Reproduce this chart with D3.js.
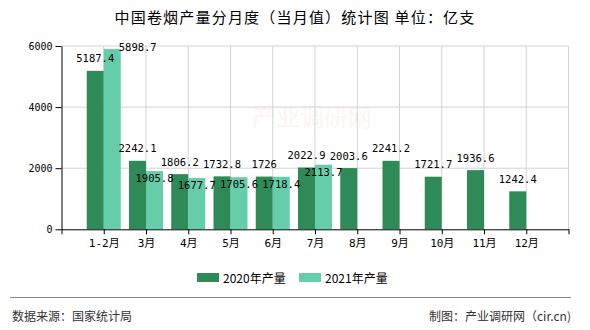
<!DOCTYPE html>
<html><head><meta charset="utf-8">
<script src="https://cdn.jsdelivr.net/npm/d3@7"></script>
<style>
body{margin:0;background:#fff;}
svg{display:block;}
</style></head>
<body>
<svg id="chart" width="590" height="330"></svg>
<script>
const categories = ["1-2月","3月","4月","5月","6月","7月","8月","9月","10月","11月","12月"];
const series2020 = [5187.4,2242.1,1806.2,1732.8,1726,2022.9,2003.6,2241.2,1721.7,1936.6,1242.4];
const series2021 = [5898.7,1905.8,1677.7,1705.6,1718.4,2113.7,null,null,null,null,null];
const seriesNames = ["2020年产量","2021年产量"];
const yTicks = [0,2000,4000,6000];
const colors = ["#2e8b57","#66cdaa"];

(function(){
const svg = d3.select("#chart");
const pL = 61.5, pR = 568.5, pT = 46, pB = 229.3;
const monoFont = "'DejaVu Sans Mono','Noto Sans CJK SC',monospace";
const cjkFont = "'Noto Sans CJK SC','Noto Sans',sans-serif";

const x = d3.scaleLinear().domain([0, categories.length + 1]).range([pL, pR]);
const y = d3.scaleLinear().domain([0, 6000]).range([pB, pT]);
const barW = 17;

// title
svg.append("text").attr("x", 295).attr("y", 23).attr("text-anchor", "middle")
  .attr("font-family", cjkFont).attr("font-size", 15).attr("letter-spacing", 1.2)
  .attr("fill", "#000").text("中国卷烟产量分月度（当月值）统计图 单位：亿支");

// watermark
svg.append("text").attr("x", 312).attr("y", 126).attr("text-anchor", "middle")
  .attr("font-family", cjkFont).attr("font-size", 24).attr("fill", "#fdf4f4")
  .text("产业调研网");

// grid
const grid = svg.append("g");
grid.selectAll("line.h").data(yTicks.filter(d => d > 0)).join("line")
  .attr("x1", pL).attr("x2", pR).attr("y1", d => y(d)).attr("y2", d => y(d))
  .attr("stroke", "#d3d3d3").attr("stroke-width", 1);
grid.selectAll("line.v").data(d3.range(1, categories.length + 2)).join("line")
  .attr("x1", d => x(d)).attr("x2", d => x(d)).attr("y1", pT).attr("y2", pB)
  .attr("stroke", "#d3d3d3").attr("stroke-width", 1);

// bars
const bars = svg.append("g");
bars.selectAll("rect.a").data(series2020).join("rect")
  .attr("x", (d, i) => x(i + 1) - barW).attr("width", barW)
  .attr("y", d => y(d)).attr("height", d => pB - y(d)).attr("fill", colors[0]);
bars.selectAll("rect.b").data(series2021.map((v, i) => ({v, i})).filter(d => d.v != null)).join("rect")
  .attr("x", d => x(d.i + 1)).attr("width", barW)
  .attr("y", d => y(d.v)).attr("height", d => pB - y(d.v)).attr("fill", colors[1]);

// axes
const yAxis = svg.append("g").attr("transform", `translate(${pL},0)`)
  .call(d3.axisLeft(y).tickValues(yTicks).tickFormat(d3.format("d")).tickSize(6).tickSizeOuter(0).tickPadding(3));
yAxis.selectAll("path,line").attr("stroke", "#000");
yAxis.selectAll("text").attr("font-family", monoFont).attr("font-size", 10).attr("fill", "#000");

const xAxis = svg.append("g").attr("transform", `translate(0,${pB})`)
  .call(d3.axisBottom(x).tickValues(d3.range(0, categories.length + 2))
    .tickFormat(i => categories[i - 1] || "").tickSize(5).tickSizeOuter(0).tickPadding(5));
xAxis.selectAll("path,line").attr("stroke", "#000");
xAxis.selectAll("text").attr("font-family", monoFont).attr("font-size", 11).attr("fill", "#000");

// labels
const labels = svg.append("g").attr("font-family", monoFont).attr("font-size", 10.5).attr("fill", "#000");
const darkBoxes = [];
series2020.forEach((v, i) => {
  const t = labels.append("text").attr("x", x(i + 1) - barW / 2).attr("y", y(v) - 8.5)
    .attr("text-anchor", "middle").text(String(v));
  darkBoxes[i] = t.node().getBBox();
});
series2021.forEach((v, i) => {
  if (v == null) return;
  const cx = x(i + 1) + barW / 2;
  const t = labels.append("text").attr("x", cx).attr("y", y(v) + 11)
    .attr("text-anchor", "middle").text(String(v));
  const b = t.node().getBBox(), d = darkBoxes[i];
  const overlap = b.x < d.x + d.width && d.x < b.x + b.width && b.y < d.y + d.height && d.y < b.y + b.height;
  if (overlap) {
    t.attr("text-anchor", "start").attr("x", x(i + 1) + barW - 2).attr("y", y(v) + 2);
  }
});

// legend
const legend = svg.append("g");
const legX = [197, 299];
seriesNames.forEach((n, i) => {
  legend.append("rect").attr("x", legX[i]).attr("y", 273).attr("width", 22).attr("height", 9).attr("fill", colors[i]);
  legend.append("text").attr("x", legX[i] + 26).attr("y", 283)
    .attr("font-family", cjkFont).attr("font-size", 12).attr("fill", "#000").text(n);
});

// footer
svg.append("line").attr("x1", 10).attr("x2", 571).attr("y1", 297.5).attr("y2", 297.5)
  .attr("stroke", "#888").attr("stroke-width", 1);
svg.append("text").attr("x", 12).attr("y", 321).attr("font-family", cjkFont).attr("font-size", 12)
  .attr("fill", "#333").text("数据来源：国家统计局");
svg.append("text").attr("x", 571).attr("y", 321).attr("text-anchor", "end").attr("font-family", cjkFont).attr("font-size", 12)
  .attr("fill", "#333").text("制图：产业调研网（cir.cn)");
})();
</script>
</body></html>
